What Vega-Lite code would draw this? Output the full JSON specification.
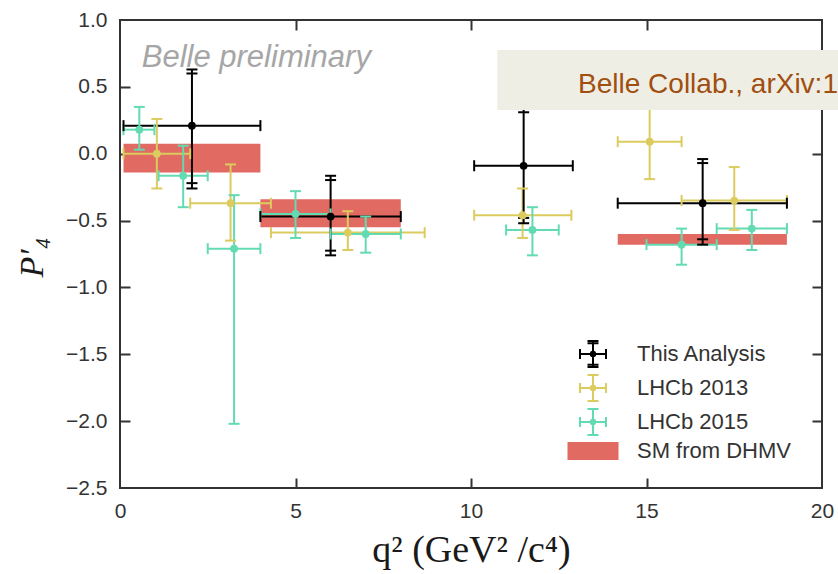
{
  "$schema": "https://vega.github.io/schema/vega-lite/v6.json",
  "width": 702,
  "height": 468,
  "autosize": {"type": "none"},
  "padding": {"left": 120, "top": 20, "right": 16, "bottom": 86},
  "background": "white",
  "config": {
    "view": {"stroke": "#333333", "strokeWidth": 2},
    "axis": {"grid": false, "domain": false, "tickColor": "#333333", "tickWidth": 2, "tickSize": 10, "labelFont": "Liberation Sans", "labelFontSize": 21, "labelColor": "#333333", "labelFlush": false, "labelOverlap": false, "labelBound": false, "zindex": 1}
  },
  "datasets": {
    "points": [
      {"series": "LHCb 2013", "x": 1.05, "y": 0.0, "xlo": 0.1, "xhi": 2.0, "ylo": -0.26, "yhi": 0.26},
      {"series": "LHCb 2013", "x": 3.15, "y": -0.37, "xlo": 2.0, "xhi": 4.3, "ylo": -0.65, "yhi": -0.08},
      {"series": "LHCb 2013", "x": 6.49, "y": -0.59, "xlo": 4.3, "xhi": 8.68, "ylo": -0.72, "yhi": -0.43},
      {"series": "LHCb 2013", "x": 11.47, "y": -0.46, "xlo": 10.09, "xhi": 12.86, "ylo": -0.63, "yhi": -0.26},
      {"series": "LHCb 2013", "x": 15.09, "y": 0.09, "xlo": 14.18, "xhi": 16.0, "ylo": -0.19, "yhi": 0.38},
      {"series": "LHCb 2013", "x": 17.5, "y": -0.35, "xlo": 16.0, "xhi": 19.0, "ylo": -0.57, "yhi": -0.1},
      {"series": "LHCb 2015", "x": 0.55, "y": 0.18, "xlo": 0.1, "xhi": 0.98, "ylo": 0.03, "yhi": 0.35},
      {"series": "LHCb 2015", "x": 1.8, "y": -0.165, "xlo": 1.1, "xhi": 2.5, "ylo": -0.4, "yhi": 0.06},
      {"series": "LHCb 2015", "x": 3.25, "y": -0.71, "xlo": 2.5, "xhi": 4.0, "ylo": -2.02, "yhi": -0.31},
      {"series": "LHCb 2015", "x": 5.0, "y": -0.45, "xlo": 4.0, "xhi": 6.0, "ylo": -0.63, "yhi": -0.28},
      {"series": "LHCb 2015", "x": 7.0, "y": -0.6, "xlo": 6.0, "xhi": 8.0, "ylo": -0.74, "yhi": -0.47},
      {"series": "LHCb 2015", "x": 11.75, "y": -0.57, "xlo": 11.0, "xhi": 12.5, "ylo": -0.76, "yhi": -0.4},
      {"series": "LHCb 2015", "x": 16.0, "y": -0.68, "xlo": 15.0, "xhi": 17.0, "ylo": -0.83, "yhi": -0.56},
      {"series": "LHCb 2015", "x": 18.0, "y": -0.56, "xlo": 17.0, "xhi": 19.0, "ylo": -0.72, "yhi": -0.42},
      {"series": "This Analysis", "x": 2.05, "y": 0.21, "xlo": 0.1, "xhi": 4.0, "ylo": -0.26, "yhi": 0.63, "ylo2": -0.22, "yhi2": 0.6},
      {"series": "This Analysis", "x": 6.0, "y": -0.47, "xlo": 4.0, "xhi": 8.0, "ylo": -0.76, "yhi": -0.165, "ylo2": -0.725, "yhi2": -0.197},
      {"series": "This Analysis", "x": 11.5, "y": -0.09, "xlo": 10.09, "xhi": 12.9, "ylo": -0.52, "yhi": 0.335, "ylo2": -0.48, "yhi2": 0.31},
      {"series": "This Analysis", "x": 16.6, "y": -0.37, "xlo": 14.18, "xhi": 19.0, "ylo": -0.68, "yhi": -0.04, "ylo2": -0.64, "yhi2": -0.07}
    ],
    "sm": [
      {"series": "SM from DHMV", "x1": 0.1, "x2": 4.0, "y1": 0.075, "y2": -0.14},
      {"series": "SM from DHMV", "x1": 4.0, "x2": 8.0, "y1": -0.34, "y2": -0.55},
      {"series": "SM from DHMV", "x1": 14.18, "x2": 19.0, "y1": -0.6, "y2": -0.68}
    ],
    "legendrows": [
      {"series": "This Analysis", "x": 10, "y": 0},
      {"series": "LHCb 2013", "x": 10, "y": 0},
      {"series": "LHCb 2015", "x": 10, "y": 0},
      {"series": "SM from DHMV", "x": 10, "y": 0}
    ],
    "watermark": [{"x": 0.62, "y": 0.65, "label": "Belle preliminary"}],
    "citebox": [{"x1": 10.75, "x2": 20.6, "y1": 0.326, "y2": 0.776}],
    "citetext": [{"x": 13.05, "y": 0.454, "label": "Belle Collab., arXiv:1"}]
  },
  "resolve": {"axis": {"x": "independent", "y": "independent"}},
  "layer": [
    {
      "data": {"name": "legendrows"},
      "mark": {"type": "point", "filled": false, "size": 400, "strokeWidth": 2, "opacity": 0},
      "encoding": {
        "x": {"field": "x", "type": "quantitative", "axis": null, "scale": {"domain": [0, 20], "nice": false, "zero": false}},
        "y": {"field": "y", "type": "quantitative", "axis": null, "scale": {"domain": [-2.5, 1.0], "nice": false, "zero": false}},
        "color": {"field": "series", "type": "nominal",
          "scale": {"domain": ["This Analysis", "LHCb 2013", "LHCb 2015", "SM from DHMV"], "range": ["#000000", "#DCCB5E", "#63DBB2", "#E16A63"]},
          "legend": {"title": null, "orient": "none", "direction": "vertical", "legendX": 462, "legendY": 323, "padding": 0,
            "labelFont": "Liberation Sans", "labelFontSize": 22, "labelColor": "#333333", "labelOffset": 33, "rowPadding": 0,
            "symbolSize": 400, "symbolStrokeWidth": 2, "symbolOpacity": 1, "symbolFillColor": "transparent"}},
        "shape": {"field": "series", "type": "nominal",
          "scale": {"domain": ["This Analysis", "LHCb 2013", "LHCb 2015", "SM from DHMV"],
            "range": [
              "M-1.3,0H1.3M0,-1.3V1.3M-1.3,-0.5V0.5M1.3,-0.5V0.5M-0.55,-1.3H0.55M-0.55,-1.08H0.55M-0.55,1.3H0.55M-0.55,1.08H0.55M-0.22,0A0.22,0.22 0 1 0 0.22,0A0.22,0.22 0 1 0 -0.22,0M-0.08,0A0.08,0.08 0 1 0 0.08,0A0.08,0.08 0 1 0 -0.08,0",
              "M-1.3,0H1.3M0,-1.3V1.3M-1.3,-0.5V0.5M1.3,-0.5V0.5M-0.55,-1.3H0.55M-0.55,1.3H0.55M-0.22,0A0.22,0.22 0 1 0 0.22,0A0.22,0.22 0 1 0 -0.22,0M-0.08,0A0.08,0.08 0 1 0 0.08,0A0.08,0.08 0 1 0 -0.08,0",
              "M-1.3,0H1.3M0,-1.3V1.3M-1.3,-0.5V0.5M1.3,-0.5V0.5M-0.55,-1.3H0.55M-0.55,1.3H0.55M-0.22,0A0.22,0.22 0 1 0 0.22,0A0.22,0.22 0 1 0 -0.22,0M-0.08,0A0.08,0.08 0 1 0 0.08,0A0.08,0.08 0 1 0 -0.08,0",
              "M-2.55,-0.8H2.55M-2.55,-0.6H2.55M-2.55,-0.4H2.55M-2.55,-0.2H2.55M-2.55,0H2.55M-2.55,0.2H2.55M-2.55,0.4H2.55M-2.55,0.6H2.55M-2.55,0.8H2.55"
            ]}}
      }
    },
    {
      "data": {"name": "sm"},
      "mark": {"type": "rect", "opacity": 1},
      "encoding": {
        "x": {"field": "x1", "type": "quantitative",
          "axis": {"orient": "bottom", "values": [0, 5, 10, 15, 20], "format": "d", "ticks": false, "labelPadding": 12,
            "title": "q²  (GeV² /c⁴)", "titleFont": "Liberation Serif, DejaVu Serif", "titleFontSize": 38, "titleFontWeight": "normal", "titleColor": "#1a1a1a",
            "titleX": 351, "titleY": 73, "titleAlign": "center", "titleBaseline": "alphabetic"}},
        "x2": {"field": "x2"},
        "y": {"field": "y1", "type": "quantitative",
          "axis": {"orient": "left", "values": [1.0, 0.5, 0.0, -0.5, -1.0, -1.5, -2.0, -2.5], "format": ".1f", "ticks": false, "labelPadding": 13,
            "title": "P′₄", "titleFont": "Liberation Serif, DejaVu Serif", "titleFontStyle": "italic", "titleFontSize": 34, "titleFontWeight": "normal", "titleColor": "#1a1a1a",
            "titleAngle": -90, "titleX": -78, "titleY": 237, "titleAlign": "center", "titleBaseline": "alphabetic"}},
        "y2": {"field": "y2"},
        "color": {"field": "series", "type": "nominal"}
      }
    },
    {
      "mark": {"type": "rule", "color": "#8a8a8a", "strokeWidth": 1.5},
      "encoding": {"y": {"datum": 0, "type": "quantitative", "axis": null}}
    },
    {
      "data": {"name": "points"},
      "mark": {"type": "rule", "strokeWidth": 2},
      "encoding": {
        "x": {"field": "xlo", "type": "quantitative",
          "axis": {"orient": "bottom", "offset": -10, "values": [5, 10, 15], "labels": false, "title": null}},
        "x2": {"field": "xhi"},
        "y": {"field": "y", "type": "quantitative",
          "axis": {"orient": "left", "offset": -10, "values": [0.5, 0.0, -0.5, -1.0, -1.5, -2.0], "labels": false, "title": null}},
        "color": {"field": "series", "type": "nominal"}
      }
    },
    {
      "data": {"name": "points"},
      "mark": {"type": "rule", "strokeWidth": 2},
      "encoding": {
        "x": {"field": "x", "type": "quantitative",
          "axis": {"orient": "top", "offset": -10, "values": [5, 10, 15], "labels": false, "title": null}},
        "y": {"field": "ylo", "type": "quantitative",
          "axis": {"orient": "right", "offset": -10, "values": [0.5, 0.0, -0.5, -1.0, -1.5, -2.0], "labels": false, "title": null}},
        "y2": {"field": "yhi"},
        "color": {"field": "series", "type": "nominal"}
      }
    },
    {
      "data": {"name": "points"},
      "transform": [
        {"fold": ["ylo", "yhi", "ylo2", "yhi2"], "as": ["end", "cap"]},
        {"filter": "isValid(datum.cap)"}
      ],
      "mark": {"type": "point", "shape": "stroke", "filled": false, "size": 121, "strokeWidth": 2, "opacity": 1},
      "encoding": {
        "x": {"field": "x", "type": "quantitative", "axis": null},
        "y": {"field": "cap", "type": "quantitative", "axis": null},
        "color": {"field": "series", "type": "nominal"}
      }
    },
    {
      "data": {"name": "points"},
      "transform": [
        {"fold": ["xlo", "xhi"], "as": ["end", "cap"]}
      ],
      "mark": {"type": "point", "shape": "stroke", "angle": 90, "filled": false, "size": 121, "strokeWidth": 2, "opacity": 1},
      "encoding": {
        "x": {"field": "cap", "type": "quantitative", "axis": null},
        "y": {"field": "y", "type": "quantitative", "axis": null},
        "color": {"field": "series", "type": "nominal"}
      }
    },
    {
      "data": {"name": "points"},
      "mark": {"type": "point", "shape": "circle", "filled": true, "size": 60, "opacity": 1},
      "encoding": {
        "x": {"field": "x", "type": "quantitative", "axis": null},
        "y": {"field": "y", "type": "quantitative", "axis": null},
        "color": {"field": "series", "type": "nominal"}
      }
    },
    {
      "data": {"name": "watermark"},
      "mark": {"type": "text", "font": "Liberation Sans", "fontStyle": "italic", "fontSize": 31, "color": "#a6a6a6", "align": "left", "baseline": "alphabetic"},
      "encoding": {
        "x": {"field": "x", "type": "quantitative", "axis": null},
        "y": {"field": "y", "type": "quantitative", "axis": null},
        "text": {"field": "label"}
      }
    },
    {
      "data": {"name": "citebox"},
      "mark": {"type": "rect", "color": "#EFEEE5", "clip": false},
      "encoding": {
        "x": {"field": "x1", "type": "quantitative", "axis": null},
        "x2": {"field": "x2"},
        "y": {"field": "y1", "type": "quantitative", "axis": null},
        "y2": {"field": "y2"}
      }
    },
    {
      "data": {"name": "citetext"},
      "mark": {"type": "text", "font": "Liberation Sans", "fontSize": 28, "color": "#A04F10", "align": "left", "baseline": "alphabetic"},
      "encoding": {
        "x": {"field": "x", "type": "quantitative", "axis": null},
        "y": {"field": "y", "type": "quantitative", "axis": null},
        "text": {"field": "label"}
      }
    }
  ]
}
